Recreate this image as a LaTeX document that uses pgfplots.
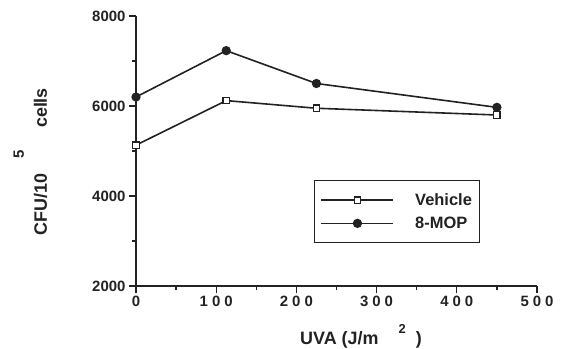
\documentclass[border=0pt]{standalone}
\usepackage{fontspec}
\setmainfont{Liberation Sans}
\usepackage{pgfplots}
\pgfplotsset{compat=1.18}
\definecolor{ink}{HTML}{222222}
\begin{document}
\begin{tikzpicture}
\path[use as bounding box] (-136bp,-63bp) rectangle (432bp,286bp);
\begin{axis}[
  scale only axis, width=401bp, height=270bp,
  xmin=0, xmax=500, ymin=2000, ymax=8000,
  clip=false,
  axis lines=left,
  axis line style={-, line width=1.5bp, draw=ink},
  xtick={0,100,200,300,400,500},
  xticklabels={0,{1\hspace{4bp}0\hspace{4bp}0},{2\hspace{4bp}0\hspace{4bp}0},{3\hspace{4bp}0\hspace{4bp}0},{4\hspace{4bp}0\hspace{4bp}0},{5\hspace{4bp}0\hspace{4bp}0}},
  ytick={2000,4000,6000,8000},
  yticklabels={2000,4000,6000,8000},
  minor x tick num=1, minor y tick num=1,
  tick align=outside,
  major tick length=7bp, minor tick length=3.5bp,
  tick style={line width=1.3bp, draw=ink},
  ticklabel style={font=\fontsize{15}{15}\selectfont\bfseries, text=ink},
  xlabel={UVA (J/m\hspace{20bp}\raisebox{11bp}{\fontsize{13}{13}\selectfont 2}\hspace{10bp})},
  xlabel style={font=\fontsize{18}{18}\selectfont\bfseries, text=ink, at={(axis description cs:0.561,0)}, anchor=base, yshift=-58bp},
  ylabel={CFU/10\hspace{15bp}\raisebox{23bp}{\fontsize{15}{15}\selectfont 5}\hspace{22bp}cells},
  ylabel style={font=\fontsize{18}{18}\selectfont\bfseries, text=ink, at={(axis description cs:-0.222,0.461)}, rotate=0, anchor=base},
  legend style={at={(axis description cs:0.444,0.393)}, anchor=north west, draw=ink, line width=1.2bp, font=\fontsize{16.5}{16.5}\selectfont\bfseries, text=ink, inner xsep=6bp, inner ysep=11bp, row sep=6bp},
  legend cell align=left,
  legend image code/.code={\draw[mark repeat=2, mark phase=2, #1] plot coordinates {(0bp,0bp) (36bp,0bp) (72bp,0bp)};},
  /tikz/every odd column/.append style={column sep=19bp},
]
\addplot[ink, line width=1.6bp, mark=square*, mark size=3.2bp, mark options={fill=white, line width=1.2bp}] coordinates {(0,5130) (112.5,6120) (225,5950) (450,5800)};
\addlegendentry{Vehicle\hspace{24bp}}
\addplot[ink, line width=1.6bp, mark=*, mark size=3.8bp, mark options={fill=ink}] coordinates {(0,6200) (112.5,7230) (225,6500) (450,5970)};
\addlegendentry{8-MOP}
\end{axis}
\end{tikzpicture}
\end{document}
